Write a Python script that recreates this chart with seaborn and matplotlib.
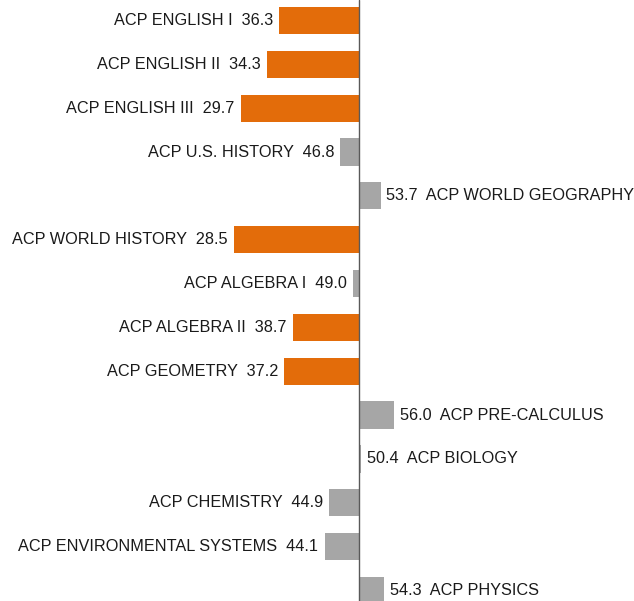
import matplotlib
matplotlib.use("Agg")
import matplotlib.pyplot as plt
import seaborn as sns
import pandas as pd

courses = ["ACP ENGLISH I", "ACP ENGLISH II", "ACP ENGLISH III", "ACP U.S. HISTORY",
           "ACP WORLD GEOGRAPHY", "ACP WORLD HISTORY", "ACP ALGEBRA I", "ACP ALGEBRA II",
           "ACP GEOMETRY", "ACP PRE-CALCULUS", "ACP BIOLOGY", "ACP CHEMISTRY",
           "ACP ENVIRONMENTAL SYSTEMS", "ACP PHYSICS"]
scores = [36.3, 34.3, 29.7, 46.8, 53.7, 28.5, 49.0, 38.7, 37.2, 56.0, 50.4, 44.9, 44.1, 54.3]
baseline = 50.0
threshold = 40.0
colors = {"low": "#E36C0A", "other": "#A6A6A6"}

df = pd.DataFrame({"course": courses, "score": scores})
df["dev"] = df["score"] - baseline
df["group"] = ["low" if s < threshold else "other" for s in scores]

sns.set_theme(style="white")
plt.rcParams["font.family"] = ["Liberation Sans", "DejaVu Sans"]

fig = plt.figure(figsize=(6.34, 6.01), dpi=100)
ax = fig.add_axes([0, 0, 1, 1])
sns.barplot(data=df, x="dev", y="course", hue="group", palette=colors,
            dodge=False, width=0.62, legend=False, ax=ax, orient="h",
            saturation=1, linewidth=0)

ax.axvline(0, color="#595959", lw=1.0, zorder=3)
ax.set_xlim(-61.5, 47.1)
ax.set_ylim(13.24, -0.467)
ax.axis("off")

for i, (c, s) in enumerate(zip(courses, scores)):
    d = s - baseline
    if d < 0:
        ax.annotate(f"{c}  {s:.1f}", xy=(d, i), xytext=(-4.5, 0), textcoords="offset points",
                    ha="right", va="center", fontsize=11.7, color="#1a1a1a")
    else:
        ax.annotate(f"{s:.1f}  {c}", xy=(d, i), xytext=(4, 0), textcoords="offset points",
                    ha="left", va="center", fontsize=11.7, color="#1a1a1a")

fig.savefig("out.png", dpi=100)
